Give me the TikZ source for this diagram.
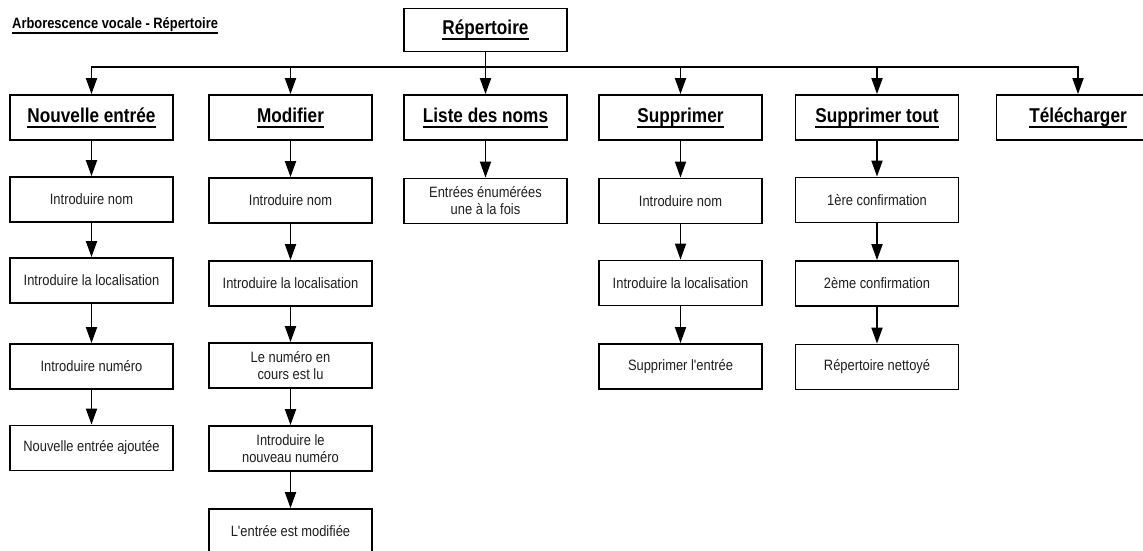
\documentclass[tikz,border=0pt]{standalone}
\usepackage{fontspec}
\setmainfont{Liberation Sans}
\newfontfamily\af[FakeStretch=0.86]{Liberation Sans}
\usetikzlibrary{arrows.meta}
\newcommand\myul[1]{\leavevmode\setbox0\hbox{#1}\rlap{\raisebox{-5.5pt}{\rule{\wd0}{1.6pt}}}\box0}
\tikzset{
  box/.style={draw=black, line width=1.8pt, minimum width=163pt, minimum height=45pt,
    inner sep=2pt, align=center, text=black!88, font=\af\fontsize{15}{17}\selectfont},
  headbox/.style={box, text=black, font=\af\bfseries\fontsize{20}{22}\selectfont},
  arr/.style={line width=1.8pt, -{Triangle[length=16pt,width=11pt]}},
  busline/.style={line width=1.8pt, line cap=rect}
}
\begin{document}
\begin{tikzpicture}[x=1pt,y=-1pt]
\useasboundingbox (0,0) rectangle (1143,550);
\clip (0,0) rectangle (1143,550);
\fill[white] (0,0) rectangle (1143,550);

\node[anchor=base west, inner sep=0pt, font=\af\bfseries\fontsize{15}{17}\selectfont] (title) at (12,28) {\myul{Arborescence vocale - Répertoire}};

\node[headbox, minimum height=43pt] (rep) at (485.5,30) {\myul{Répertoire}};

% level 1
\node[headbox] (nouv) at (91.5,117.5) {\myul{Nouvelle entrée}};
\node[headbox] (mod)  at (290.5,117.5) {\myul{Modifier}};
\node[headbox] (liste) at (485.5,117.5) {\myul{Liste des noms}};
\node[headbox] (supp) at (680.5,117.5) {\myul{Supprimer}};
\node[headbox] (supt) at (877,117.5) {\myul{Supprimer tout}};
\node[headbox] (tele) at (1078,117.5) {\myul{Télécharger}};

% Nouvelle entree column
\node[box] (n2) at (91.5,199.5) {Introduire nom};
\node[box] (n3) at (91.5,280.5) {Introduire la localisation};
\node[box] (n4) at (91.5,366.5) {Introduire numéro};
\node[box] (n5) at (91.5,448) {Nouvelle entrée ajoutée};

% Modifier column
\node[box] (m2) at (290.5,200.5) {Introduire nom};
\node[box] (m3) at (290.5,283.5) {Introduire la localisation};
\node[box] (m4) at (290.5,365.5) {Le numéro en\\cours est lu};
\node[box] (m5) at (290.5,448.5) {Introduire le\\nouveau numéro};
\node[box] (m6) at (290.5,531.5) {L'entrée est modifiée};

% Liste column
\node[box] (l2) at (485.5,201) {Entrées énumérées\\une à la fois};

% Supprimer column
\node[box] (s2) at (680.5,201) {Introduire nom};
\node[box] (s3) at (680.5,283) {Introduire la localisation};
\node[box] (s4) at (680.5,366.5) {Supprimer l'entrée};

% Supprimer tout column
\node[box] (t2) at (877,200) {1ère confirmation};
\node[box] (t3) at (877,283.5) {2ème confirmation};
\node[box] (t4) at (877,367) {Répertoire nettoyé};

% bus
\coordinate (busL) at (91.5,67);
\coordinate (busR) at (1078,67);
\draw[busline] (busL) -- (busR);
\draw[busline] (rep.south) -- (rep.south |- busL);
\foreach \n in {nouv,mod,liste,supp,supt,tele}
  \draw[arr] (\n.north |- busL) -- (\n.north);

% vertical arrows
\draw[arr] (nouv) -- (n2);
\draw[arr] (n2) -- (n3);
\draw[arr] (n3) -- (n4);
\draw[arr] (n4) -- (n5);
\draw[arr] (mod) -- (m2);
\draw[arr] (m2) -- (m3);
\draw[arr] (m3) -- (m4);
\draw[arr] (m4) -- (m5);
\draw[arr] (m5) -- (m6);
\draw[arr] (liste) -- (l2);
\draw[arr] (supp) -- (s2);
\draw[arr] (s2) -- (s3);
\draw[arr] (s3) -- (s4);
\draw[arr] (supt) -- (t2);
\draw[arr] (t2) -- (t3);
\draw[arr] (t3) -- (t4);
\end{tikzpicture}
\end{document}
